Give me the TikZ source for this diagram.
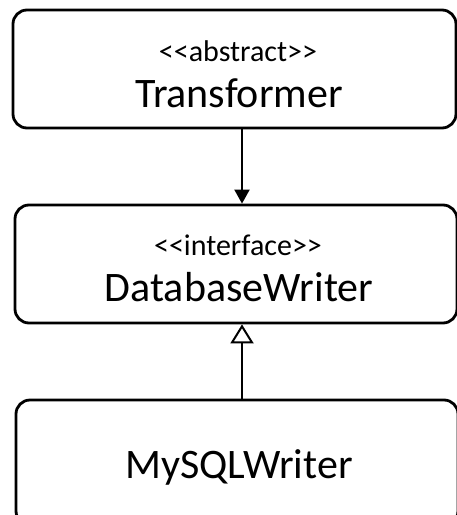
\documentclass[tikz,border=0pt]{standalone}
\usepackage{fontspec}
\setmainfont{Carlito}
\usetikzlibrary{arrows.meta, positioning}

\begin{document}
\begin{tikzpicture}[x=1pt, y=-1pt,
    classbox/.style={draw, line width=2.8pt, rounded corners=14pt, inner sep=0pt},
    stereo/.style={font=\fontsize{30}{32}\selectfont, inner sep=0pt, anchor=base},
    classname/.style={font=\fontsize{42}{46}\selectfont, inner sep=0pt, anchor=base},
    assoc/.style={line width=2pt, -{Triangle[width=15pt, length=14pt]}},
    realize/.style={line width=2pt, -{Triangle[open, width=23pt, length=19pt, fill=white, line width=2pt]}}]
        % Khung
        \clip (0,0) rectangle (457,515);
        \useasboundingbox (0,0) rectangle (457,515);

        % Cac lop
        \node[classbox, minimum width=443pt, minimum height=118pt] (transformer) at (234.5,69) {};
        \node[classbox, minimum width=442pt, minimum height=118pt] (writer) at (236,264) {};
        \node[classbox, minimum width=442pt, minimum height=125pt] (mysql) at (237,462.5) {};

        \node[stereo] (transformer-st) at (238,61) {<\kern0pt<abstract>\kern0pt>};
        \node[classname] (transformer-nm) at (239,107) {Transformer};
        \node[stereo] (writer-st) at (238,255) {<\kern0pt<interface>\kern0pt>};
        \node[classname] (writer-nm) at (239,301) {DatabaseWriter};
        \node[classname] (mysql-nm) at (239,478) {MySQLWriter};

        % Mui ten
        \draw[assoc] (transformer.south -| 242,0) -- (writer.north -| 242,0);
        \draw[realize] (mysql.north -| 242,0) -- (writer.south -| 242,0);
\end{tikzpicture}
\end{document}
